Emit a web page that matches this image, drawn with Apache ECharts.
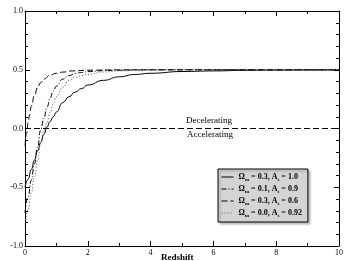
<!DOCTYPE html>
<html>
<head>
<meta charset="utf-8">
<script src="https://cdn.jsdelivr.net/npm/echarts@6/dist/echarts.min.js"></script>
<style>
  html, body { margin: 0; padding: 0; background: #fff; }
  #chart { width: 344px; height: 261px; }
</style>
</head>
<body>
<div id="chart"></div>
<script>
// redshift grid shared by three curves
const z = [0, 0.1, 0.2, 0.3, 0.4, 0.5, 0.6, 0.7, 0.8, 0.9, 1.0, 1.2, 1.4, 1.6, 1.8, 2.0, 2.5, 3, 3.5, 4, 5, 6, 7, 8, 9, 10];
const qSolid = [-0.50, -0.43, -0.35, -0.27, -0.19, -0.12, -0.05, 0.01, 0.06, 0.10, 0.14, 0.22, 0.27, 0.31, 0.34, 0.37, 0.41, 0.44, 0.46, 0.47, 0.485, 0.49, 0.495, 0.497, 0.498, 0.499];
const qDashDot = [-0.72, -0.58, -0.44, -0.30, -0.16, -0.01, 0.09, 0.18, 0.26, 0.32, 0.36, 0.42, 0.45, 0.468, 0.477, 0.484, 0.492, 0.496, 0.498, 0.499, 0.5, 0.5, 0.5, 0.5, 0.5, 0.5];
const qDotted = [-0.83, -0.69, -0.55, -0.41, -0.27, -0.13, -0.02, 0.05, 0.14, 0.21, 0.27, 0.35, 0.41, 0.435, 0.45, 0.46, 0.48, 0.49, 0.494, 0.497, 0.499, 0.5, 0.5, 0.5, 0.5, 0.5];
// long dashed curve rises faster, own grid
const zLong = [0, 0.05, 0.1, 0.15, 0.2, 0.3, 0.4, 0.5, 0.6, 0.8, 1.0, 1.2, 1.5, 2, 3, 4, 6, 8, 10];
const qLong = [-0.15, -0.04, 0.05, 0.12, 0.19, 0.28, 0.35, 0.39, 0.42, 0.455, 0.47, 0.48, 0.49, 0.496, 0.499, 0.5, 0.5, 0.5, 0.5];
// q = 0 divider
const zZero = [0, 10];
const qZero = [0, 0];

const omegaM = ["0.3", "0.1", "0.3", "0.0"];
const aS = ["1.0", "0.9", "0.6", "0.92"];
const names = omegaM.map((o, i) => `${o}|${aS[i]}`);

const pairs = (xs, ys) => xs.map((x, i) => [x, ys[i]]);
const serif = "Liberation Serif";

const chart = echarts.init(document.getElementById("chart"));

const axisCommon = {
  axisLine: { onZero: false, lineStyle: { color: "#000", width: 1 } },
  axisTick: { inside: true, length: 5, lineStyle: { color: "#000" } },
  minorTick: { show: true, length: 3, lineStyle: { color: "#000" } },
  splitLine: { show: false },
  minorSplitLine: { show: false },
};

const curve = (name, data, type, color) => ({
  name: name,
  type: "line",
  data: data,
  xAxisIndex: 0,
  yAxisIndex: 0,
  symbol: "none",
  smooth: true,
  smoothMonotone: "x",
  lineStyle: { color: color, width: 1, type: type },
  itemStyle: { color: color },
  silent: true,
});

const option = {
  animation: false,
  grid: { left: 25, right: 5, top: 11, bottom: 15, outerBoundsMode: "none", containLabel: false },
  xAxis: [
    Object.assign({}, axisCommon, {
      type: "value", min: 0, max: 10, interval: 2,
      minorTick: Object.assign({}, axisCommon.minorTick, { splitNumber: 2 }),
      axisLabel: { color: "#000", fontFamily: serif, fontSize: 8, margin: 3 },
    }),
    Object.assign({}, axisCommon, {
      type: "value", min: 0, max: 10, interval: 2, position: "top",
      minorTick: Object.assign({}, axisCommon.minorTick, { splitNumber: 2 }),
      axisLabel: { show: false },
    }),
  ],
  yAxis: [
    Object.assign({}, axisCommon, {
      type: "value", min: -1, max: 1, interval: 0.5,
      minorTick: Object.assign({}, axisCommon.minorTick, { splitNumber: 5 }),
      axisLabel: {
        color: "#000", fontFamily: serif, fontSize: 8, margin: 2,
        formatter: (v) => v.toFixed(1),
      },
      name: "q(z)", nameLocation: "middle", nameGap: 15, nameRotate: 90,
      nameTextStyle: { color: "#000", fontFamily: serif, fontSize: 9, fontWeight: "bold" },
    }),
    Object.assign({}, axisCommon, {
      type: "value", min: -1, max: 1, interval: 0.5, position: "right",
      minorTick: Object.assign({}, axisCommon.minorTick, { splitNumber: 5 }),
      axisLabel: { show: false },
    }),
  ],
  legend: {
    data: names,
    orient: "vertical",
    left: 218,
    top: 169,
    itemWidth: 12,
    itemHeight: 8,
    itemGap: 3,
    padding: [4, 6, 4, 3],
    backgroundColor: "#d4d4d4",
    borderColor: "#000",
    borderWidth: 1,
    shadowColor: "rgba(0,0,0,0.25)",
    shadowOffsetX: 2,
    shadowOffsetY: 2,
    shadowBlur: 2,
    selectedMode: false,
    itemStyle: { opacity: 0 },
    lineStyle: { width: 1 },
    formatter: (name) => {
      const [o, a] = name.split("|");
      return `{t|Ω}{s|m}{t| = ${o}, A}{s|s}{t| = ${a}}`;
    },
    textStyle: {
      color: "#000",
      fontFamily: serif,
      fontWeight: "bold",
      fontSize: 8,
      rich: {
        t: { fontFamily: serif, fontWeight: "bold", fontSize: 8, color: "#000", lineHeight: 10 },
        s: { fontFamily: serif, fontWeight: "bold", fontSize: 5, color: "#000", lineHeight: 10, verticalAlign: "bottom", padding: [3, 0, 0, 0] },
      },
    },
  },
  graphic: [
    { type: "text", left: 186, top: 116, style: { text: "Decelerating", font: `9px "${serif}"`, fill: "#000" } },
    { type: "text", left: 187, top: 130, style: { text: "Accelerating", font: `9px "${serif}"`, fill: "#000" } },
    { type: "text", left: 161, top: 253, style: { text: "Redshift", font: `bold 9px "${serif}"`, fill: "#000" } },
  ],
  series: [
    curve(names[0], pairs(z, qSolid), "solid", "#000"),
    curve(names[1], pairs(z, qDashDot), [5, 2, 1, 2], "#000"),
    curve(names[2], pairs(zLong, qLong), [6, 3], "#000"),
    curve(names[3], pairs(z, qDotted), [1, 2], "#555"),
    {
      type: "line",
      data: pairs(zZero, qZero),
      symbol: "none",
      silent: true,
      lineStyle: { color: "#000", width: 1, type: [6, 3] },
    },
  ],
};

chart.setOption(option);
</script>
</body>
</html>
